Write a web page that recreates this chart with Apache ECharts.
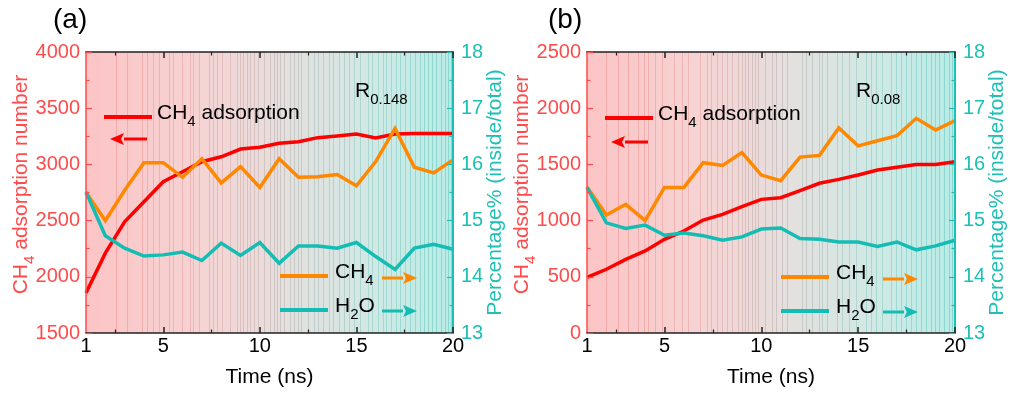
<!DOCTYPE html>
<html>
<head>
<meta charset="utf-8">
<script src="https://cdn.jsdelivr.net/npm/echarts@6/dist/echarts.min.js"></script>
<style>
  html, body { margin: 0; padding: 0; background: #fff; }
  #chart { width: 1010px; height: 396px; }
</style>
</head>
<body>
<div id="chart"></div>
<script>
// ---- data ----
const time = [1, 2, 3, 4, 5, 6, 7, 8, 9, 10, 11, 12, 13, 14, 15, 16, 17, 18, 19, 20];
const xTickLabels = [1, 5, 10, 15, 20];
const xMajorTicks = [5, 10, 15, 20];
const xMinorTicks = [2.5, 7.5, 12.5, 17.5];

// (a) R0.148
const adsorptionA = [1855, 2210, 2490, 2668, 2846, 2935, 3024, 3068, 3137, 3152, 3188, 3202, 3238, 3253, 3270, 3235, 3270, 3275, 3275, 3275];
const ch4PctA = [15.5, 15.0, 15.54, 16.03, 16.03, 15.77, 16.1, 15.67, 15.96, 15.59, 16.1, 15.77, 15.78, 15.82, 15.62, 16.05, 16.64, 15.95, 15.85, 16.08];
const h2oPctA = [15.51, 14.73, 14.51, 14.37, 14.39, 14.44, 14.29, 14.6, 14.38, 14.61, 14.24, 14.55, 14.55, 14.51, 14.61, 14.36, 14.13, 14.51, 14.58, 14.49];

// (b) R0.08
const adsorptionB = [495, 567, 655, 730, 833, 907, 1005, 1056, 1124, 1189, 1204, 1266, 1332, 1367, 1406, 1450, 1474, 1500, 1500, 1524];
const ch4PctB = [15.6, 15.1, 15.29, 15.0, 15.59, 15.59, 16.03, 15.98, 16.21, 15.81, 15.71, 16.13, 16.16, 16.65, 16.33, 16.42, 16.51, 16.82, 16.61, 16.78];
const h2oPctB = [15.59, 14.96, 14.86, 14.92, 14.74, 14.78, 14.73, 14.65, 14.71, 14.85, 14.87, 14.68, 14.67, 14.62, 14.62, 14.54, 14.62, 14.48, 14.55, 14.65];

// thin vertical stripes of the background fill (time positions)
const stripesA = [2.57, 3.14, 3.92, 4.17, 4.48, 4.79, 5.31, 5.48, 5.98, 6.38, 6.56, 6.87, 7.39, 7.56, 7.77, 8.02, 8.46, 8.84, 8.98, 9.15, 9.36, 9.5, 9.71, 9.93, 10.19,
  10.54, 10.71, 10.88, 11.06, 11.26, 11.58, 11.78, 11.96, 12.13, 12.47, 12.82, 12.99, 13.25, 13.6, 13.77, 14.12, 14.38, 14.64, 14.86, 15.16, 15.59, 15.8, 16.11,
  16.37, 16.54, 16.8, 17.06, 17.24, 17.5, 17.76, 18.01, 18.27, 18.5, 18.71, 18.91, 19.14, 19.4, 19.57, 19.74, 19.88];
const stripesB = [1.97, 2.62, 3.13, 3.62, 3.96, 4.16, 4.51, 4.86, 5.51, 5.89, 6.23, 6.83, 7.18, 7.4, 7.7, 7.95, 8.21, 8.47, 8.78, 8.99, 9.16, 9.33, 9.5, 9.67, 9.84, 10.19,
  10.57, 10.77, 11.08, 11.34, 12.11, 12.29, 12.63, 12.98, 13.15, 13.41, 13.92, 14.18, 14.53, 14.9, 15.39, 15.65, 15.9, 16.25, 16.68, 16.94, 17.2, 17.45, 17.71,
  17.97, 18.23, 18.49, 18.74, 18.97, 19.17, 19.43, 19.69, 19.86];

// ---- styling ----
const FONT = 'Liberation Sans, Arial, sans-serif';
const RED_AXIS = '#ff4b4b';
const CYAN_AXIS = '#1ebfb6';
const FRAME = '#222';
const C_RED = '#ff0000';
const C_ORANGE = '#ff8800';
const C_CYAN = '#13bdb3';

const bgStops = [
  [0.0, [252, 196, 197]],
  [0.3, [246, 211, 211]],
  [0.55, [228, 224, 222]],
  [0.8, [207, 233, 229]],
  [1.0, [184, 236, 230]]
];
const stripeStops = [
  [0.0, [245, 160, 160]],
  [0.3, [236, 178, 178]],
  [0.55, [196, 194, 192]],
  [0.8, [160, 214, 208]],
  [1.0, [128, 212, 204]]
];
function mix(stops, f) {
  f = Math.max(0, Math.min(1, f));
  for (let i = 1; i < stops.length; i++) {
    if (f <= stops[i][0]) {
      const a = stops[i - 1], b = stops[i];
      const k = (f - a[0]) / (b[0] - a[0]);
      const c = a[1].map((v, j) => Math.round(v + (b[1][j] - v) * k));
      return 'rgb(' + c.join(',') + ')';
    }
  }
  return 'rgb(' + stops[stops.length - 1][1].join(',') + ')';
}
function bgGradient() {
  return new echarts.graphic.LinearGradient(0, 0, 1, 0,
    bgStops.map(s => ({ offset: s[0], color: mix(bgStops, s[0]) })));
}

const richText = (color) => ({
  m: { fontSize: 21, fontFamily: FONT, color: color, lineHeight: 26, verticalAlign: 'top' },
  s: { fontSize: 15, fontFamily: FONT, color: color, lineHeight: 2, verticalAlign: 'bottom' }
});
const plain = v => String(v);

function xAxes(gi) {
  const base = { gridIndex: gi, type: 'value', min: 1, max: 20, z: 5, splitLine: { show: false } };
  return [
    Object.assign({}, base, {
      position: 'bottom',
      name: 'Time (ns)', nameLocation: 'middle', nameGap: 34,
      nameTextStyle: { fontSize: 21, color: '#000', fontFamily: FONT },
      axisLine: { show: true, lineStyle: { color: FRAME, width: 1.5 } },
      axisTick: { show: true, inside: true, length: 6, customValues: xMajorTicks, lineStyle: { color: FRAME, width: 1.5 } },
      axisLabel: { show: true, customValues: xTickLabels, fontSize: 20, color: '#000', fontFamily: FONT, margin: 3, formatter: plain }
    }),
    Object.assign({}, base, {
      position: 'bottom',
      axisLine: { show: false },
      axisTick: { show: true, inside: true, length: 3.5, customValues: xMinorTicks, lineStyle: { color: FRAME, width: 1.2 } },
      axisLabel: { show: false }
    }),
    Object.assign({}, base, {
      position: 'top',
      axisLine: { show: true, lineStyle: { color: FRAME, width: 1.5 } },
      axisTick: { show: true, inside: true, length: 6, customValues: xMajorTicks, lineStyle: { color: FRAME, width: 1.5 } },
      axisLabel: { show: false }
    }),
    Object.assign({}, base, {
      position: 'top',
      axisLine: { show: false },
      axisTick: { show: true, inside: true, length: 3.5, customValues: xMinorTicks, lineStyle: { color: FRAME, width: 1.2 } },
      axisLabel: { show: false }
    })
  ];
}

function yAxes(gi, leftMin, leftMax) {
  return [
    {
      gridIndex: gi, type: 'value', position: 'left', min: leftMin, max: leftMax, interval: 500, z: 5,
      name: '{m|CH}{s|4}{m| adsorption number}', nameLocation: 'middle', nameGap: 49, nameMoveOverlap: false,
      nameTextStyle: { rich: richText(RED_AXIS), padding: [0, 0, 0, 16] },
      axisLine: { show: true, lineStyle: { color: RED_AXIS, width: 1.5 } },
      axisTick: { show: true, inside: true, length: 6, lineStyle: { color: RED_AXIS, width: 1.2 } },
      minorTick: { show: true, splitNumber: 2, length: 3.5, lineStyle: { color: RED_AXIS, width: 1.2 } },
      axisLabel: { fontSize: 20, color: RED_AXIS, fontFamily: FONT, margin: 6, formatter: plain },
      splitLine: { show: false }
    },
    {
      gridIndex: gi, type: 'value', position: 'right', min: 13, max: 18, interval: 1, z: 5,
      name: 'Percentage% (inside/total)', nameLocation: 'middle', nameGap: 32, nameMoveOverlap: false,
      nameTextStyle: { fontSize: 21, color: CYAN_AXIS, fontFamily: FONT },
      axisLine: { show: true, lineStyle: { color: CYAN_AXIS, width: 2 } },
      axisTick: { show: true, inside: true, length: 6, lineStyle: { color: CYAN_AXIS, width: 1.2 } },
      minorTick: { show: true, splitNumber: 2, length: 3.5, lineStyle: { color: CYAN_AXIS, width: 1.2 } },
      axisLabel: { fontSize: 20, color: CYAN_AXIS, fontFamily: FONT, margin: 8, formatter: plain },
      splitLine: { show: false }
    }
  ];
}

function stripeSeries(gi, stripes, yMin) {
  return {
    type: 'custom', xAxisIndex: gi * 4, yAxisIndex: gi * 2, z: 1, silent: true,
    data: stripes.map(t => [t]),
    renderItem: function (params, api) {
      const cs = params.coordSys;
      const x = Math.round(api.coord([api.value(0), yMin])[0]) + 0.5;
      const f = (x - cs.x) / cs.width;
      return {
        type: 'line',
        shape: { x1: x, y1: cs.y, x2: x, y2: cs.y + cs.height },
        style: { stroke: mix(stripeStops, f), lineWidth: 1, opacity: 0.85 }
      };
    }
  };
}

function lineSeries(name, gi, yi, values, color) {
  return {
    name: name, type: 'line', xAxisIndex: gi * 4, yAxisIndex: gi * 2 + yi, z: 3,
    data: time.map((t, i) => [t, values[i]]),
    showSymbol: false, symbol: 'none', smooth: false,
    lineStyle: { color: color, width: 3.5, join: 'miter' },
    silent: true, animation: false
  };
}

// ---- legend / annotations ----
const legendRich = (subLH) => ({
  m: { fontSize: 21, fontFamily: FONT, fill: '#000', lineHeight: 26, verticalAlign: 'top' },
  s: { fontSize: 15, fontFamily: FONT, fill: '#000', lineHeight: subLH, verticalAlign: 'bottom' }
});
function label(x, y, text, subLH) {
  return { type: 'text', x: x, y: y, z: 10, silent: true,
    style: { text: text, rich: legendRich(subLH), verticalAlign: 'middle', align: 'left' } };
}
function sample(x1, x2, y, color) {
  return { type: 'line', z: 10, silent: true, shape: { x1: x1, y1: y, x2: x2, y2: y },
    style: { stroke: color, lineWidth: 4 } };
}
function arrow(x1, x2, y, color, dir) {
  const tip = dir > 0 ? x2 : x1;
  const back = tip - dir * 14;
  return [
    { type: 'line', z: 10, silent: true,
      shape: { x1: dir > 0 ? x1 : back, y1: y, x2: dir > 0 ? back : x2, y2: y },
      style: { stroke: color, lineWidth: 3 } },
    { type: 'polygon', z: 10, silent: true,
      shape: { points: [[tip, y], [back, y - 6], [back + dir * 3, y], [back, y + 6]] },
      style: { fill: color } }
  ];
}
function panelLegend(dx, topY, arrowY, botY1, botY2, rName, rSub) {
  return [
    sample(104 + dx, 152 + dx, topY, C_RED),
    label(157 + dx, topY - 1, '{m|CH}{s|4}{m| adsorption}', 2),
    ...arrow(110 + dx, 147 + dx, arrowY, C_RED, -1),
    sample(280 + dx, 328 + dx, botY1, C_ORANGE),
    label(335 + dx, botY1 - 1, '{m|CH}{s|4}', 4),
    ...arrow(382 + dx, 417 + dx, botY1 + 2, C_ORANGE, 1),
    sample(280 + dx, 328 + dx, botY2, C_CYAN),
    label(335 + dx, botY2 - 1, '{m|H}{s|2}{m|O}', 4),
    ...arrow(382 + dx, 417 + dx, botY2 + 1, C_CYAN, 1),
    label(355 + dx, 94, '{m|' + rName + '}{s|' + rSub + '}', 11)
  ];
}

const graphics = [
  { type: 'text', x: 53, y: 20, style: { text: '(a)', fontSize: 28, fontFamily: FONT, fill: '#000', verticalAlign: 'middle' } },
  { type: 'text', x: 548, y: 20, style: { text: '(b)', fontSize: 28, fontFamily: FONT, fill: '#000', verticalAlign: 'middle' } },
  ...panelLegend(0, 117, 139, 276, 310, 'R', '0.148'),
  ...panelLegend(501, 118, 142, 277, 311, 'R', '0.08')
];

const chart = echarts.init(document.getElementById('chart'), null, { renderer: 'canvas' });
chart.setOption({
  animation: false,
  backgroundColor: '#fff',
  grid: [
    { left: 86, top: 52, width: 367, height: 281, show: true, borderWidth: 0, backgroundColor: bgGradient() },
    { left: 587, top: 52, width: 368, height: 281, show: true, borderWidth: 0, backgroundColor: bgGradient() }
  ],
  xAxis: [...xAxes(0), ...xAxes(1)],
  yAxis: [...yAxes(0, 1500, 4000), ...yAxes(1, 0, 2500)],
  series: [
    stripeSeries(0, stripesA, 1500),
    lineSeries('CH4 adsorption', 0, 0, adsorptionA, C_RED),
    lineSeries('CH4', 0, 1, ch4PctA, C_ORANGE),
    lineSeries('H2O', 0, 1, h2oPctA, C_CYAN),
    stripeSeries(1, stripesB, 0),
    lineSeries('CH4 adsorption', 1, 0, adsorptionB, C_RED),
    lineSeries('CH4', 1, 1, ch4PctB, C_ORANGE),
    lineSeries('H2O', 1, 1, h2oPctB, C_CYAN)
  ],
  graphic: graphics
});
</script>
</body>
</html>
